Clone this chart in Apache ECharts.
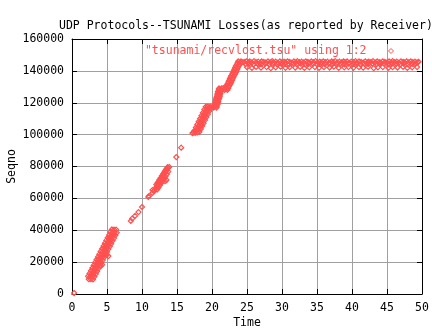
<!DOCTYPE html>
<html>
<head>
<meta charset="utf-8">
<script src="https://cdn.jsdelivr.net/npm/echarts@6/dist/echarts.min.js"></script>
<style>
  html, body { margin: 0; padding: 0; background: #fff; }
  #chart { width: 432px; height: 328px; }
</style>
</head>
<body>
<div id="chart"></div>
<script>
// Receiver-side loss records: [time (s), sequence number]
const originLoss = [[0.3, 600]];

const firstBurst = [
  [2.3, 11100], [2.5, 12800], [2.7, 14600], [2.9, 16300], [3.1, 18000], [3.3, 19800],
  [3.5, 21500], [3.7, 23200], [3.9, 24900], [4.1, 26700], [4.3, 28400], [4.5, 30100],
  [4.7, 31800], [4.9, 33600], [5.1, 35300], [5.3, 37000], [5.5, 38800], [5.7, 40500],
  [2.4, 9300], [2.6, 11000], [2.8, 12700], [3.0, 14500], [3.2, 16200], [3.4, 17900],
  [3.6, 19600], [3.8, 21400], [4.0, 23100], [4.2, 24800], [4.4, 26600], [4.6, 28300],
  [4.8, 30000], [5.0, 31700], [5.2, 33500], [5.4, 35200], [5.6, 36900], [5.8, 38700], [6.0, 40400],
  [2.7, 9300], [2.9, 11000], [3.1, 12700], [3.3, 14500], [3.5, 16200], [3.7, 17900],
  [3.9, 19600], [4.1, 21400], [4.3, 23100], [4.5, 24800], [4.7, 26500], [4.9, 28300],
  [5.1, 30000], [5.3, 31700], [5.5, 33500], [5.7, 35200], [5.9, 36900], [6.1, 38600], [6.3, 40400],
  [3.0, 9200], [3.2, 10900], [3.4, 12600], [3.6, 14300], [3.8, 16100], [4.0, 17800],
  [4.2, 19500], [4.4, 21300], [4.6, 23000], [4.8, 24700], [5.0, 26400], [5.2, 28200],
  [5.4, 29900], [5.6, 31600], [5.8, 33400], [6.0, 35100], [6.2, 36800], [6.4, 38500],
  [4.3, 18300], [4.1, 17600], [5.2, 23800], [5.0, 24600]
];

const sparseLoss = [
  [8.4, 45800], [8.6, 47300], [9.0, 49000], [9.5, 51400], [10.0, 54600],
  [10.9, 60900], [11.0, 61500], [11.5, 63400], [11.7, 64600], [11.8, 65300], [11.5, 65200],
  [14.9, 85900], [15.6, 91800]
];

const secondBurst = [
  [12.0, 66500], [12.1, 67500], [12.2, 67800], [12.3, 69000], [12.4, 69300], [12.5, 70600],
  [12.6, 70800], [12.7, 72200], [12.8, 72400], [12.9, 73700], [13.0, 74000], [13.1, 75200],
  [13.2, 75500], [13.3, 76600], [13.4, 77000], [13.5, 77900], [13.6, 78400], [13.7, 79000],
  [13.9, 79700],
  [12.05, 68700], [12.25, 70000], [12.45, 71500], [12.65, 72800], [12.85, 74200], [13.05, 75600],
  [13.25, 77000], [13.45, 78300], [13.65, 79600],
  [12.15, 65500], [12.35, 66800], [12.55, 68200], [12.75, 69600], [12.95, 71000], [13.15, 72400],
  [13.35, 73800], [13.55, 75200], [13.75, 76800],
  [13.5, 71500], [13.3, 70800]
];

// 17–20 s cluster
const climbLow = [
  [17.2, 101000], [17.4, 101300],
  [17.5, 102600], [17.7, 104500], [17.9, 106400], [18.1, 108200], [18.3, 110100], [18.5, 111900],
  [18.7, 113800], [18.9, 115700], [19.1, 117500],
  [17.6, 101100], [17.8, 102900], [18.0, 104800], [18.2, 106700], [18.4, 108500], [18.6, 110400],
  [18.8, 112200], [19.0, 114100], [19.2, 116000], [19.4, 117600],
  [17.9, 101400], [18.1, 103200], [18.3, 105100], [18.5, 106900], [18.7, 108800], [18.9, 110700],
  [19.1, 112500], [19.3, 114400], [19.5, 116200], [19.7, 117500],
  [18.2, 101650], [18.4, 103500], [18.6, 105400], [18.8, 107200], [19.0, 109100], [19.2, 111000],
  [19.4, 112800], [19.6, 114700], [19.8, 116500], [20.0, 117300]
];

// 20–21.5 s cluster
const climbMid = [
  [20.25, 117000], [20.65, 117000], [20.35, 118000], [20.7, 118000], [20.4, 119000], [20.8, 119000],
  [20.45, 120000], [20.85, 120000], [20.5, 121000], [20.9, 121000], [20.55, 122000], [20.95, 122000],
  [20.6, 123000], [21.05, 123000], [20.7, 124000], [21.1, 124000], [20.75, 125000], [21.15, 125000],
  [20.8, 126000], [21.2, 126000], [20.85, 127000], [21.25, 127000], [20.95, 128000], [21.3, 128000],
  [21.0, 129000], [21.35, 129000], [21.6, 129200]
];

// 21.8–24.2 s cluster up to the plateau
const climbHigh = [
  [21.8, 128000], [22.2, 128000], [21.9, 129000], [22.3, 129000], [22.0, 130000], [22.4, 130000],
  [22.1, 131000], [22.5, 131000], [22.25, 132000], [22.65, 132000], [22.35, 133000], [22.75, 133000],
  [22.45, 134000], [22.85, 134000], [22.55, 135000], [22.95, 135000], [22.65, 136000], [23.05, 136000],
  [22.75, 137000], [23.15, 137000], [22.9, 138000], [23.3, 138000], [23.0, 139000], [23.4, 139000],
  [23.1, 140000], [23.5, 140000], [23.2, 141000], [23.6, 141000], [23.3, 142000], [23.7, 142000],
  [23.4, 143000], [23.8, 143000], [23.55, 144000], [23.95, 144000], [23.65, 145000], [24.05, 145000],
  [23.75, 146000], [24.15, 146000], [24.3, 145500]
];

const plateauUpper = [
  [24.6,145600],[24.9,146000],[25.2,145400],[25.4,145900],[25.7,145300],[26.0,146100],[26.3,145500],
  [26.6,145800],[26.9,145200],[27.1,146000],[27.4,145600],[27.7,145300],[28.0,145900],[28.3,145400],
  [28.6,146100],[28.8,145500],[29.1,145800],[29.4,145200],[29.7,146000],[30.0,145500],[30.3,145800],
  [30.5,145300],[30.8,146000],[31.1,145600],[31.4,145200],[31.7,145900],[32.0,145400],[32.2,146100],
  [32.5,145500],[32.8,145800],[33.1,145300],[33.4,146000],[33.7,145600],[33.9,145200],[34.2,145900],
  [34.5,145500],[34.8,146100],[35.1,145400],[35.4,145800],[35.6,145300],[35.9,146000],[36.2,145500],
  [36.5,145800],[36.8,145200],[37.1,145900],[37.3,145600],[37.6,146100],[37.9,145300],[38.2,145800],
  [38.5,145400],[38.8,146000],[39.0,145500],[39.3,145900],[39.6,145200],[39.9,145800],[40.2,145500],
  [40.5,146100],[40.7,145300],[41.0,145900],[41.3,145600],[41.6,145200],[41.9,146000],[42.2,145400],
  [42.4,145800],[42.7,145500],[43.0,146100],[43.3,145300],[43.6,145900],[43.9,145500],[44.1,145200],
  [44.4,146000],[44.7,145600],[45.0,145300],[45.3,145900],[45.6,145400],[45.8,146100],[46.1,145500],
  [46.4,145800],[46.7,145200],[47.0,146000],[47.3,145600],[47.5,145300],[47.8,145900],[48.1,145400],
  [48.4,146000],[48.7,145500],[49.0,145800],[49.3,145300],[49.5,145700]
];

const plateauMiddle = [
  [24.8,144200],[25.3,144500],[25.9,144100],[26.5,144400],[27.0,144000],[27.6,144500],[28.2,144200],
  [28.7,144400],[29.3,144000],[29.9,144300],[30.4,144500],[31.0,144100],[31.6,144400],[32.1,144200],
  [32.7,144500],[33.3,144000],[33.8,144300],[34.4,144500],[35.0,144100],[35.5,144400],[36.1,144200],
  [36.7,144500],[37.2,144000],[37.8,144300],[38.4,144400],[38.9,144100],[39.5,144500],[40.1,144200],
  [40.6,144300],[41.2,144000],[41.8,144400],[42.3,144200],[42.9,144500],[43.5,144100],[44.0,144300],
  [44.6,144400],[45.2,144000],[45.7,144300],[46.3,144500],[46.9,144200],[47.4,144400],[48.0,144100],
  [48.6,144300],[49.1,144500]
];

const plateauLower = [
  [25.0,142300],[25.7,141800],[26.3,142500],[27.0,142000],[27.8,142400],[28.4,141700],[29.1,142200],
  [29.8,142600],[30.5,141900],[31.1,142300],[31.9,142000],[32.6,142500],[33.2,141800],[33.9,142200],
  [34.7,142400],[35.3,141900],[36.0,142300],[36.8,142100],[37.4,142600],[38.1,141800],[38.9,142200],
  [39.5,142400],[40.2,141900],[41.0,142300],[41.6,142000],[42.3,142500],[43.1,141700],[43.7,142200],
  [44.4,142400],[45.2,141900],[45.8,142300],[46.5,142100],[47.3,142500],[47.9,141800],[48.6,142200],
  [49.3,142400]
];

const seriesName = '"tsunami/recvlost.tsu" using 1:2';
const xTicks = { min: 0, max: 50, interval: 5 };
const yTicks = { min: 0, max: 160000, interval: 20000 };

const RED = '#ff5050';
const FONT = '"DejaVu Sans Mono", "Liberation Mono", monospace';
const FS = 11.5;

const lossPoints = [].concat(originLoss, firstBurst, sparseLoss, secondBurst,
                             climbLow, climbMid, climbHigh,
                             plateauUpper, plateauMiddle, plateauLower);

const chart = echarts.init(document.getElementById('chart'), null, { renderer: 'canvas' });

const textStyle = { fontFamily: FONT, fontSize: FS, color: '#000' };
const tickLine = { color: '#000', width: 1 };
const gridLine = { color: '#a0a0a0', width: 1 };

function mainAxis(ticks, extra) {
  return Object.assign({
    type: 'value',
    min: ticks.min, max: ticks.max, interval: ticks.interval,
    axisLine: { show: true, onZero: false, lineStyle: tickLine },
    axisTick: { show: true, inside: true, length: 5, lineStyle: tickLine },
    axisLabel: Object.assign({ margin: 8, formatter: v => String(v) }, textStyle),
    splitLine: { show: true, lineStyle: gridLine },
    nameMoveOverlap: false,
    nameTextStyle: textStyle
  }, extra);
}

function mirrorAxis(ticks, extra) {
  return Object.assign({
    type: 'value',
    min: ticks.min, max: ticks.max, interval: ticks.interval,
    axisLine: { show: true, onZero: false, lineStyle: tickLine },
    axisTick: { show: true, inside: true, length: 5, lineStyle: tickLine },
    axisLabel: { show: false },
    splitLine: { show: false }
  }, extra);
}

chart.setOption({
  animation: false,
  backgroundColor: '#fff',
  title: {
    text: 'UDP Protocols--TSUNAMI Losses(as reported by Receiver)',
    left: 54, top: 15,
    textStyle: { fontFamily: FONT, fontSize: FS, fontWeight: 'normal', color: '#000' }
  },
  legend: {
    data: [seriesName],
    right: 33, top: 40,
    align: 'right',
    icon: 'diamond',
    itemWidth: 5, itemHeight: 5,
    itemStyle: { color: 'transparent', borderColor: RED, borderWidth: 1 },
    textStyle: { fontFamily: FONT, fontSize: FS, color: RED, padding: [0, 17, 0, 0] }
  },
  grid: {
    left: 72, top: 39, width: 350, height: 255,
    containLabel: false, outerBoundsMode: 'none'
  },
  xAxis: [
    mainAxis(xTicks, { position: 'bottom', name: 'Time', nameLocation: 'middle', nameGap: 23 }),
    mirrorAxis(xTicks, { position: 'top' })
  ],
  yAxis: [
    mainAxis(yTicks, { position: 'left', name: 'Seqno', nameLocation: 'middle', nameGap: 54 }),
    mirrorAxis(yTicks, { position: 'right' })
  ],
  series: [{
    type: 'scatter',
    name: seriesName,
    data: lossPoints,
    symbol: 'diamond',
    symbolSize: 5,
    itemStyle: { color: 'transparent', borderColor: RED, borderWidth: 1.2, opacity: 1 },
    emphasis: { disabled: true }
  }]
});
</script>
</body>
</html>
